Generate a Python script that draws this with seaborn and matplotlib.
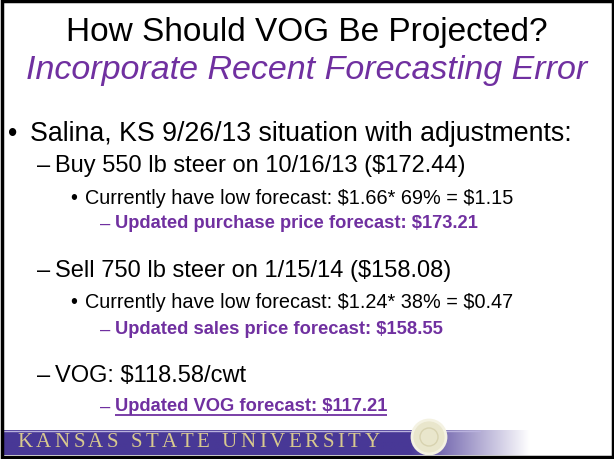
import matplotlib
matplotlib.use("Agg")
import matplotlib.pyplot as plt
import numpy as np
import seaborn as sns
from matplotlib.patches import Circle, Rectangle

# slide content
title = "How Should VOG Be Projected?"
subtitle = "Incorporate Recent Forecasting Error"
footer = "KANSAS STATE UNIVERSITY"

levels = [1, 2, 3, 4, 2, 3, 4, 2, 4]
lines = [
    "Salina, KS 9/26/13 situation with adjustments:",
    "Buy 550 lb steer on 10/16/13 ($172.44)",
    "Currently have low forecast: $1.66* 69% = $1.15",
    "Updated purchase price forecast: $173.21",
    "Sell 750 lb steer on 1/15/14 ($158.08)",
    "Currently have low forecast: $1.24* 38% = $0.47",
    "Updated sales price forecast: $158.55",
    "VOG: $118.58/cwt",
    "Updated VOG forecast: $117.21",
]
underlined = [False, False, False, False, False, False, False, False, True]

sns.set_theme(style="white")
plt.rcParams["font.family"] = ["Liberation Sans", "DejaVu Sans"]
plt.rcParams["text.parse_math"] = False

purple = "#7030A0"
band = np.array([72, 56, 150]) / 255

# layout (pixels)
line_y = [134, 166, 199, 224, 271, 303, 330, 376, 407]
level_style = {
    1: dict(mark="\u2022", mx=8, tx=30, size=19.3, weight="normal", color="black"),
    2: dict(mark="\u2013", mx=37, tx=55, size=17, weight="normal", color="black"),
    3: dict(mark="\u2022", mx=70, tx=85, size=14.3, weight="normal", color="black"),
    4: dict(mark="\u2013", mx=100, tx=115, size=13.2, weight="bold", color=purple),
}

fig = plt.figure(figsize=(6.14, 4.6), dpi=100)
ax = fig.add_axes([0, 0, 1, 1])
ax.set_xlim(0, 614)
ax.set_ylim(460, 0)
ax.axis("off")
renderer = fig.canvas.get_renderer()

ax.text(307, 33, title, ha="center", va="center", fontsize=24, color="black")
ax.text(307, 71, subtitle, ha="center", va="center", fontsize=24.5,
        style="italic", color=purple)

for lvl, txt, y, ul in zip(levels, lines, line_y, underlined):
    st = level_style[lvl]
    ax.text(st["mx"], y, st["mark"], ha="left", va="center", fontsize=st["size"],
            color=st["color"])
    t = ax.text(st["tx"], y, txt, ha="left", va="center", fontsize=st["size"],
                fontweight=st["weight"], color=st["color"])
    if ul:
        bb = t.get_window_extent(renderer)
        ax.plot([st["tx"], st["tx"] + bb.width], [y + 9, y + 9],
                color=st["color"], lw=1.3, solid_capstyle="butt")

# footer band: solid purple fading to white
xs = np.linspace(3, 611, 600)
fade = np.clip((xs - 410) / 120, 0, 1)[:, None]
grad = band * (1 - fade) + fade
ax.imshow(grad[None, :, :], extent=[3, 611, 456, 431], aspect="auto", zorder=1)
ax.plot([3, 480], [432, 432], color="#b9b2dd", lw=1, zorder=2)

# seal
ax.add_patch(Circle((429, 438), 17, facecolor="#e9e6cc", edgecolor="#f4f2e2",
                    lw=2, zorder=3))
ax.add_patch(Circle((429, 438), 9, facecolor="none", edgecolor="#d8d3b0",
                    lw=1, zorder=4))

# letter-spaced university name
x = 17
for ch in footer:
    c = ax.text(x, 443, ch, ha="left", va="center", fontsize=15,
                family=["Liberation Serif", "DejaVu Serif"], color="#d8c98f", zorder=4)
    x += c.get_window_extent(renderer).width + (3 if ch == " " else 3.6)

# slide border
ax.add_patch(Rectangle((1.5, 1.5), 611, 456.5, fill=False, edgecolor="black",
                       lw=2.5, zorder=5))

fig.savefig("out.png", dpi=100)
